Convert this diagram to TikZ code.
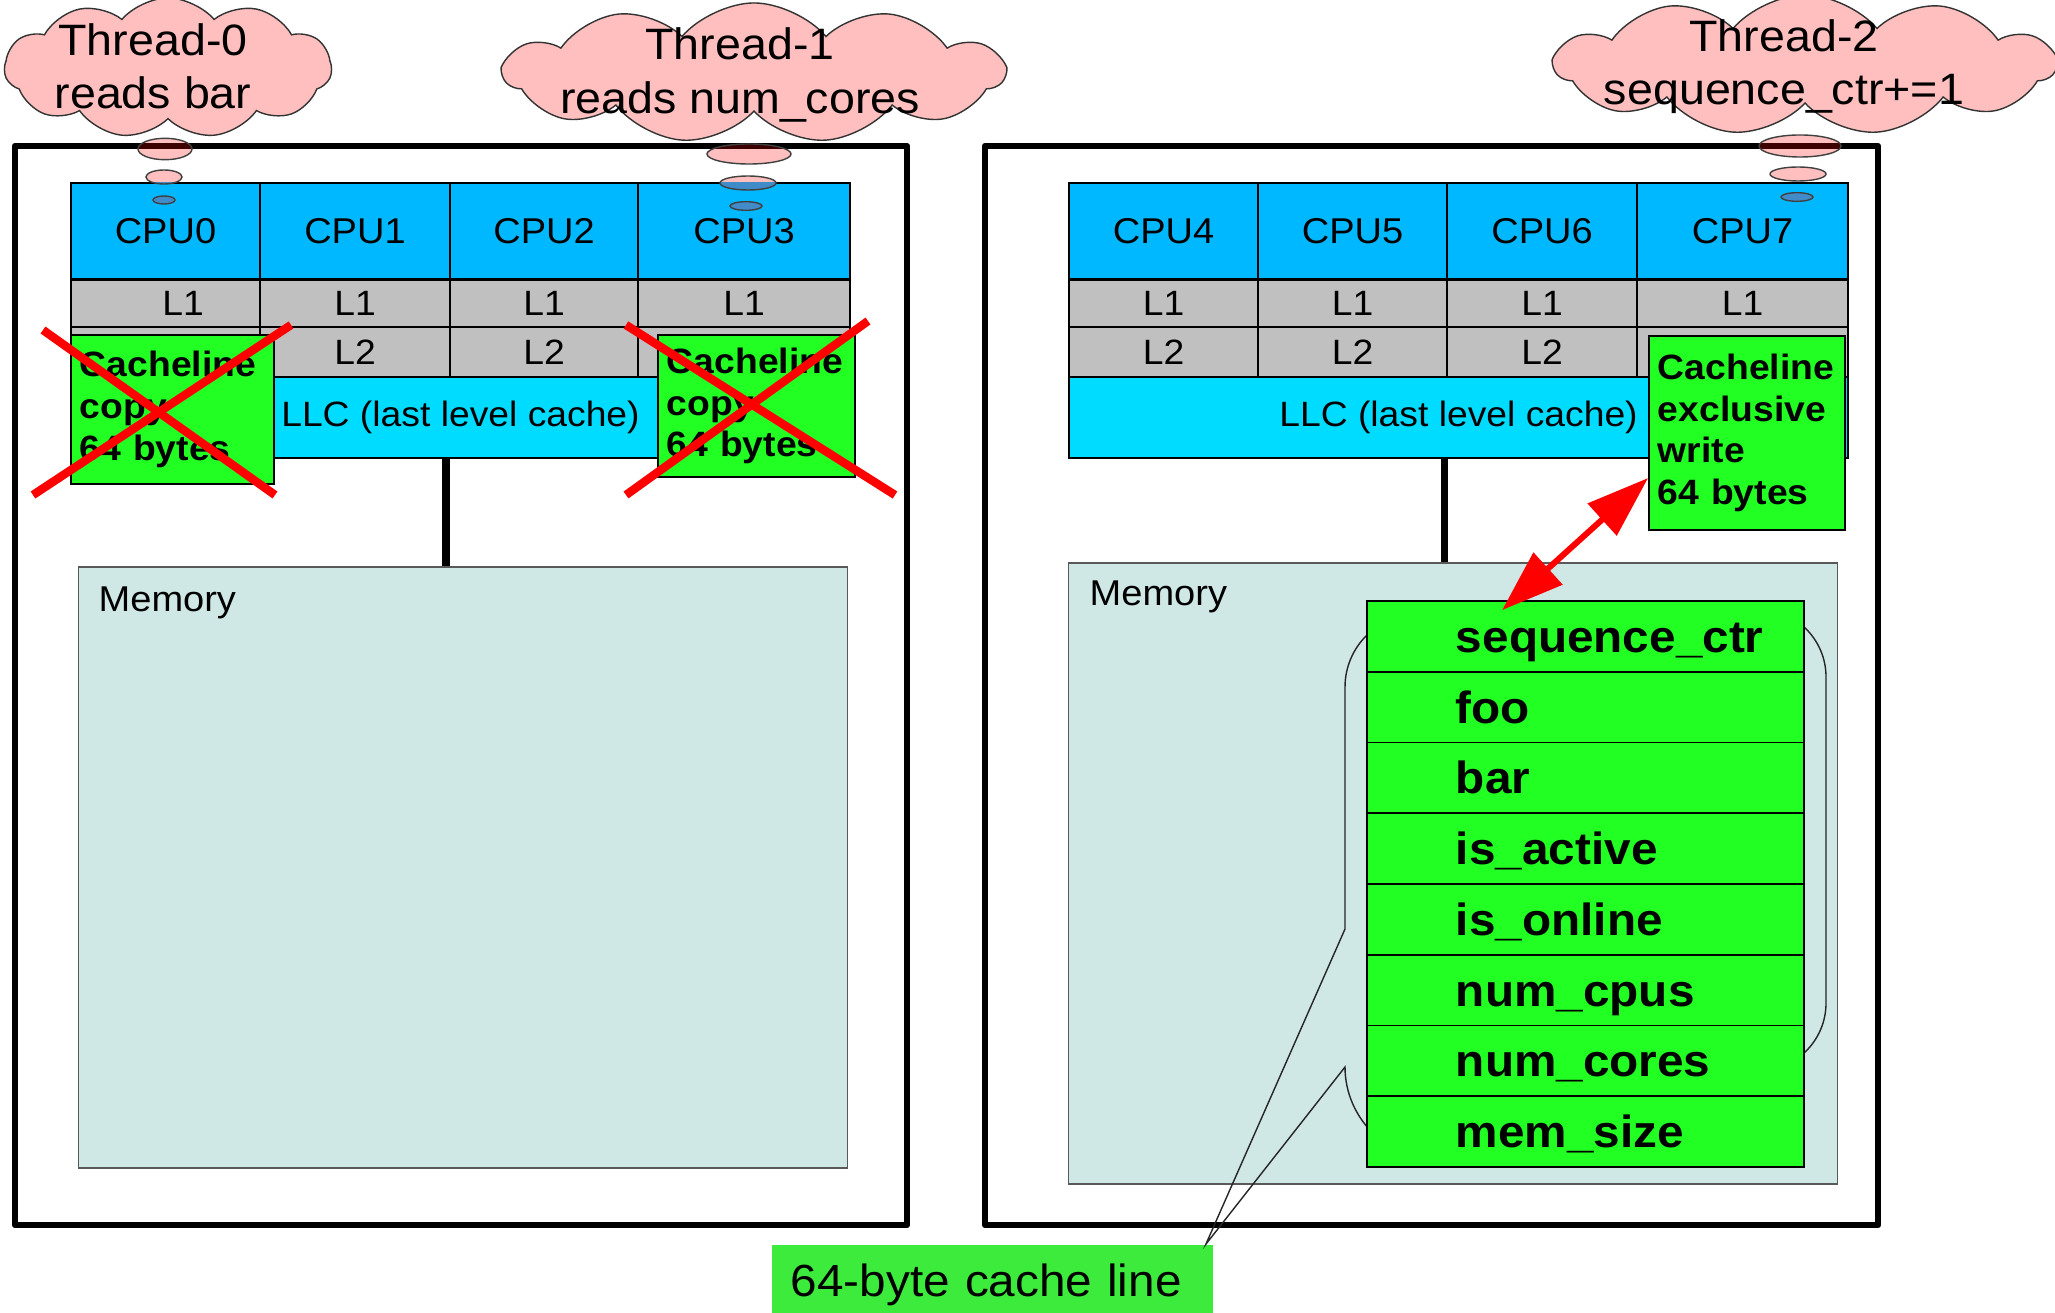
\documentclass[tikz,border=0pt]{standalone}
\usepackage{fontspec}
\setmainfont[FakeStretch=1.06]{Liberation Sans}
\usetikzlibrary{shapes.symbols,arrows.meta,calc}
\hyphenpenalty=10000
\exhyphenpenalty=10000

\definecolor{cloudpink}{HTML}{FFBFBF}
\definecolor{cpublue}{HTML}{00B8FF}
\definecolor{cachegray}{HTML}{C0C0C0}
\definecolor{llccyan}{HTML}{00DCFF}
\definecolor{memtint}{HTML}{CFE7E5}
\definecolor{linegreen}{HTML}{22FF22}
\definecolor{tagreen}{HTML}{3DEB3D}
\definecolor{bubbleblue}{HTML}{418CC8}
\definecolor{darkline}{HTML}{3C0000}

% small thought bubble: centre x, centre y, x radius, y radius
% (tinted where it overlaps the socket frame or a CPU row)
\newcommand{\thoughtbubble}[4]{%
  \fill[cloudpink] (#1,#2) ellipse [x radius=#3, y radius=#4];
  \begin{scope}
    \clip (#1,#2) ellipse [x radius=#3, y radius=#4];
    \fill[darkline] (0,142.75) rectangle (2055,149.25);
    \fill[bubbleblue] (cpu0.north west) rectangle (cpu3.south east);
    \fill[bubbleblue] (cpu4.north west) rectangle (cpu7.south east);
  \end{scope}
  \draw[bubbleedge] (#1,#2) ellipse [x radius=#3, y radius=#4];
}

\begin{document}
\begin{tikzpicture}[x=0.01cm, y=-0.01cm,
  outerbox/.style={draw=black, line width=1.85pt, line join=round},
  bus/.style={draw=black, line width=2pt},
  cell/.style={draw=black, line width=0.5pt, inner sep=0pt},
  cpucell/.style={cell, fill=cpublue, minimum height=0.96cm, font=\fontsize{10.2}{12}\selectfont},
  l1cell/.style={cell, fill=cachegray, minimum height=0.47cm, font=\fontsize{10}{12}\selectfont},
  l2cell/.style={cell, fill=cachegray, minimum height=0.50cm, font=\fontsize{10}{12}\selectfont},
  llcbox/.style={cell, fill=llccyan, minimum width=7.79cm, minimum height=0.81cm, font=\fontsize{10}{12}\selectfont},
  memorybox/.style={draw=black!65, line width=0.4pt, fill=memtint, inner sep=0pt},
  memtext/.style={anchor=base west, inner sep=0pt, font=\fontsize{10.2}{12}\selectfont},
  copybox/.style={draw=black, line width=0.5pt, fill=linegreen, inner xsep=0.09cm, inner ysep=0pt,
    align=left, font=\fontsize{10}{11.86}\selectfont\bfseries},
  field/.style={draw=black, line width=0.5pt, fill=linegreen, minimum width=4.37cm,
    minimum height=0.7075cm, text width=4.37cm, inner sep=0pt, align=left,
    text height=0.38cm, text depth=0.06cm, font=\fontsize{12.8}{15}\selectfont\bfseries},
  cross/.style={draw=red, line width=2.4pt},
  thought/.style={cloud, cloud puffs=11, cloud puff arc=100, cloud ignores aspect,
    draw=black!80, line width=0.4pt, fill=cloudpink, inner sep=0pt},
  thoughttext/.style={align=center, inner sep=0pt, font=\fontsize{12.5}{15.1}\selectfont},
  bubbleedge/.style={draw=black!75, line width=0.4pt},
  calloutline/.style={draw=black!85, line width=0.4pt},
  redarrow/.style={draw=red, line width=1.7pt,
    arrows={Triangle[length=0.62cm,width=0.42cm]-Triangle[length=0.62cm,width=0.42cm]}}
]
\fill[white] (0,0) rectangle (2055,1313);
\useasboundingbox (0,0) rectangle (2055,1313);

% ---------- thread clouds ----------
\node[thought, minimum width=3.27cm, minimum height=1.40cm] (cloudA) at (168,68) {};
\node[thoughttext] (threadA) at (153,66) {Thread-0\\reads bar};
\node[thought, minimum width=5.00cm, minimum height=1.40cm] (cloudB) at (754,73) {};
\node[thoughttext] (threadB) at (740,75) {Thread-1\\reads num\_cores};
\node[thought, minimum width=5.00cm, minimum height=1.40cm] (cloudC) at (1805,65) {};
\node[thoughttext] (threadC) at (1784,67) {Thread-2\\sequence\_ctr+=1};

% ---------- socket frames ----------
\draw[outerbox] (15,146) rectangle (907,1225);
\draw[outerbox] (985,146) rectangle (1878,1225);

% ---------- memories ----------
\node[memorybox, minimum width=7.68cm, minimum height=6.01cm] (memA) at (463,867.5) {};
\node[memtext] (memtextA) at (98,612) {Memory};
\node[memorybox, minimum width=7.68cm, minimum height=6.21cm] (memB) at (1453,873.5) {};
\node[memtext] (memtextB) at (1089,606) {Memory};

% ---------- left socket: CPUs and caches ----------
\node[cpucell, minimum width=1.89cm] (cpu0) at (165.5,231) {CPU0};
\node[cpucell, minimum width=1.90cm] (cpu1) at (355,231) {CPU1};
\node[cpucell, minimum width=1.88cm] (cpu2) at (544,231) {CPU2};
\node[cpucell, minimum width=2.12cm] (cpu3) at (744,231) {CPU3};

\node[l1cell, minimum width=1.89cm] (l1a) at (165.5,303.5) {\hspace*{0.35cm}L1};
\node[l1cell, minimum width=1.90cm] (l1b) at (355,303.5) {L1};
\node[l1cell, minimum width=1.88cm] (l1c) at (544,303.5) {L1};
\node[l1cell, minimum width=2.12cm] (l1d) at (744,303.5) {L1};

\node[l2cell, minimum width=1.89cm] (l2a) at (165.5,352) {};
\node[l2cell, minimum width=1.90cm] (l2b) at (355,352) {L2};
\node[l2cell, minimum width=1.88cm] (l2c) at (544,352) {L2};
\node[l2cell, minimum width=2.12cm] (l2d) at (744,352) {};

\node[llcbox] (llcA) at (460.5,417.5) {LLC (last level cache)};

% ---------- right socket: CPUs and caches ----------
\node[cpucell, minimum width=1.89cm] (cpu4) at (1163.5,231) {CPU4};
\node[cpucell, minimum width=1.89cm] (cpu5) at (1352.5,231) {CPU5};
\node[cpucell, minimum width=1.90cm] (cpu6) at (1542,231) {CPU6};
\node[cpucell, minimum width=2.11cm] (cpu7) at (1742.5,231) {CPU7};

\node[l1cell, minimum width=1.89cm] (l1e) at (1163.5,303.5) {L1};
\node[l1cell, minimum width=1.89cm] (l1f) at (1352.5,303.5) {L1};
\node[l1cell, minimum width=1.90cm] (l1g) at (1542,303.5) {L1};
\node[l1cell, minimum width=2.11cm] (l1h) at (1742.5,303.5) {L1};

\node[l2cell, minimum width=1.89cm] (l2e) at (1163.5,352) {L2};
\node[l2cell, minimum width=1.89cm] (l2f) at (1352.5,352) {L2};
\node[l2cell, minimum width=1.90cm] (l2g) at (1542,352) {L2};
\node[l2cell, minimum width=2.11cm] (l2h) at (1742.5,352) {};

\node[llcbox] (llcB) at (1458.5,417.5) {LLC (last level cache)};

% ---------- buses from LLC to memory ----------
\coordinate (busA) at (446,0);
\coordinate (busB) at (1444,0);
\draw[bus] (llcA.south -| busA) -- (memA.north -| busA);
\draw[bus] (llcB.south -| busB) -- (memB.north -| busB);

% ---------- thought bubbles ----------
\thoughtbubble{165}{149}{0.27cm}{0.107cm}
\thoughtbubble{164}{177}{0.18cm}{0.07cm}
\thoughtbubble{164}{200}{0.11cm}{0.04cm}
\thoughtbubble{749}{154}{0.42cm}{0.10cm}
\thoughtbubble{748}{183}{0.28cm}{0.07cm}
\thoughtbubble{746}{206}{0.16cm}{0.043cm}
\thoughtbubble{1800}{146}{0.41cm}{0.11cm}
\thoughtbubble{1798}{174}{0.28cm}{0.07cm}
\thoughtbubble{1797}{197}{0.16cm}{0.043cm}

% ---------- cache line copies ----------
\node[copybox, minimum width=2.03cm, minimum height=1.49cm, text width=1.85cm] (copyA) at (172.5,409.5)
  {Cacheline\\copy\\64 bytes};
\node[copybox, minimum width=1.97cm, minimum height=1.42cm, text width=1.79cm] (copyB) at (756.5,406)
  {Cacheline\\copy\\64 bytes};
\node[copybox, minimum width=1.96cm, minimum height=1.94cm, text width=1.78cm] (exclC) at (1747,433)
  {Cacheline\\exclusive\\write\\64 bytes};

% invalidated copies
\draw[cross] (33,495) -- (291,325);
\draw[cross] (43,330) -- (275,495);
\draw[cross] (626,495) -- (868,321);
\draw[cross] (626,325) -- (895,495);

% ---------- cache line label and its callout ----------
\node[fill=tagreen, minimum width=4.41cm, minimum height=0.80cm, text width=4.03cm,
  inner xsep=0.19cm, inner ysep=0pt, align=left, font=\fontsize{12.8}{15}\selectfont]
  (cachelabel) at (992.5,1285) {64-byte cache line};

\draw[calloutline] (1417.5,614.5) .. controls (1377.5,614.5) and (1345,647) .. (1345,687)
  -- (1345,929) -- ([xshift=-0.08cm]cachelabel.north east) -- (1345,1067)
  .. controls (1345,1118) and (1387,1160) .. (1438,1160)
  -- (1758,1071) .. controls (1795.5,1071) and (1826,1040.5) .. (1826,1003)
  -- (1826,677) .. controls (1826,639.5) and (1795.5,609) .. (1758,609) -- cycle;

% ---------- the cache line in memory ----------
\node[field] (f1) at (1585.5,636.4) {\hspace*{0.89cm}sequence\_ctr};
\node[field] (f2) at (1585.5,707.1) {\hspace*{0.89cm}foo};
\node[field] (f3) at (1585.5,777.9) {\hspace*{0.89cm}bar};
\node[field] (f4) at (1585.5,848.6) {\hspace*{0.89cm}is\_active};
\node[field] (f5) at (1585.5,919.4) {\hspace*{0.89cm}is\_online};
\node[field] (f6) at (1585.5,990.1) {\hspace*{0.89cm}num\_cpus};
\node[field] (f7) at (1585.5,1060.9) {\hspace*{0.89cm}num\_cores};
\node[field] (f8) at (1585.5,1131.6) {\hspace*{0.89cm}mem\_size};

% exclusive write between CPU7's cache and memory
\draw[redarrow] ([yshift=-0.45cm]exclC.west) -- ([xshift=1.36cm,yshift=-0.10cm]f1.north west);

\end{tikzpicture}
\end{document}
